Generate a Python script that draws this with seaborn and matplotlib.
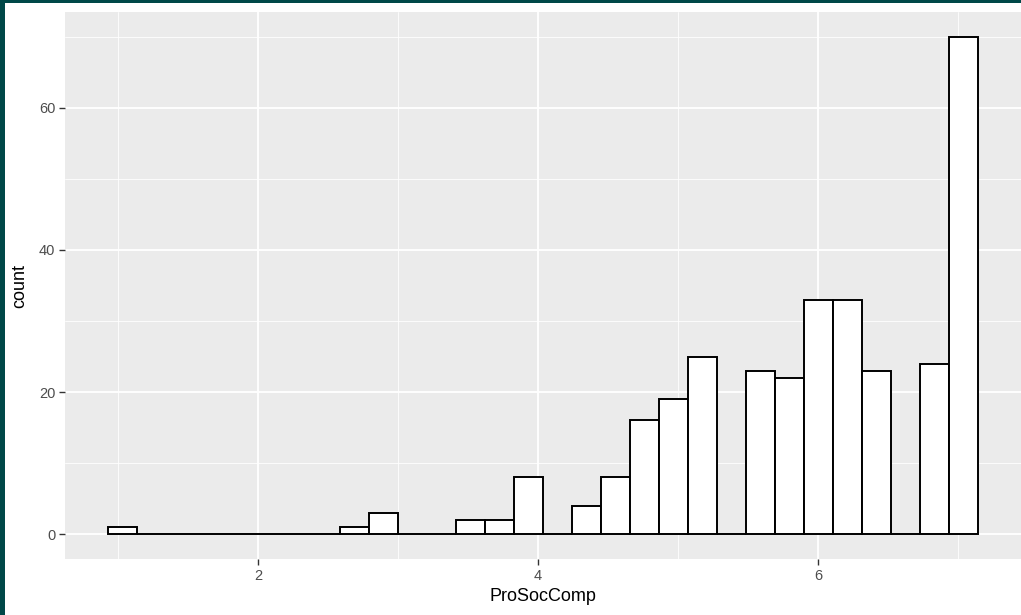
import numpy as np
import pandas as pd
import matplotlib
matplotlib.use("Agg")
import matplotlib.pyplot as plt
import seaborn as sns
from matplotlib.patches import Rectangle

# valores (centro de cada classe ocupada) e contagens
prosoc = [1.03, 2.69, 2.90, 3.52, 3.72, 3.93, 4.34, 4.55, 4.76, 4.97, 5.17,
          5.59, 5.79, 6.00, 6.21, 6.41, 6.83, 7.00]
contagem = [1, 1, 3, 2, 2, 8, 4, 8, 16, 19, 25, 23, 22, 33, 33, 23, 24, 70]
y_ticks = [0, 20, 40, 60]
x_ticks = [2, 4, 6]

df = pd.DataFrame({"ProSocComp": prosoc, "count": contagem})

# quebras como no ggplot2 com bins = 30 (min 1, max 7)
x_min, x_max, n_bins = 1.0, 7.0, 30
largura = (x_max - x_min) / (n_bins - 1)
fronteira = largura / 2
origem = fronteira + np.floor((x_min - fronteira) / largura) * largura
fim = origem + largura * n_bins

sns.set_theme(style="darkgrid")
plt.rcParams["font.family"] = ["Liberation Sans", "DejaVu Sans"]

fig = plt.figure(figsize=(10.21, 6.15), dpi=100)
fig.patch.set_facecolor("white")
ax = fig.add_axes([65 / 1021, 1 - 559 / 615, 1 - 65 / 1021, (559 - 12) / 615])
ax.set_facecolor("#EBEBEB")

sns.histplot(data=df, x="ProSocComp", weights="count", bins=n_bins,
             binrange=(origem, fim),
             color="white", edgecolor="black", linewidth=1.4, alpha=1,
             ax=ax, zorder=3)

# expansao de 5% como no ggplot
dx = (fim - origem) * 0.05
ax.set_xlim(origem - dx, fim + dx)
ax.set_ylim(-max(contagem) * 0.05, max(contagem) * 1.05)

ax.set_xticks(x_ticks)
ax.set_yticks(y_ticks)
ax.set_xticks([1, 3, 5, 7], minor=True)
ax.set_yticks([10, 30, 50, 70], minor=True)
ax.grid(which="major", color="white", linewidth=1.3)
ax.grid(which="minor", color="white", linewidth=0.6)
ax.set_axisbelow(True)
for s in ax.spines.values():
    s.set_visible(False)

ax.tick_params(which="major", length=4, width=1, color="#333333",
               labelsize=10.5, labelcolor="#4D4D4D", pad=3, bottom=True, left=True)
ax.tick_params(which="minor", length=0)
ax.set_xlabel("ProSocComp", fontsize=13, color="black", labelpad=4)
ax.set_ylabel("count", fontsize=13, color="black", labelpad=8)

# moldura escura da captura
fig.patches.append(Rectangle((0, 1 - 3 / 615), 1, 3 / 615, transform=fig.transFigure,
                             facecolor="#004848", edgecolor="none", zorder=10))
fig.patches.append(Rectangle((0, 0), 5 / 1021, 1, transform=fig.transFigure,
                             facecolor="#004848", edgecolor="none", zorder=10))

fig.savefig("out.png", dpi=100)
